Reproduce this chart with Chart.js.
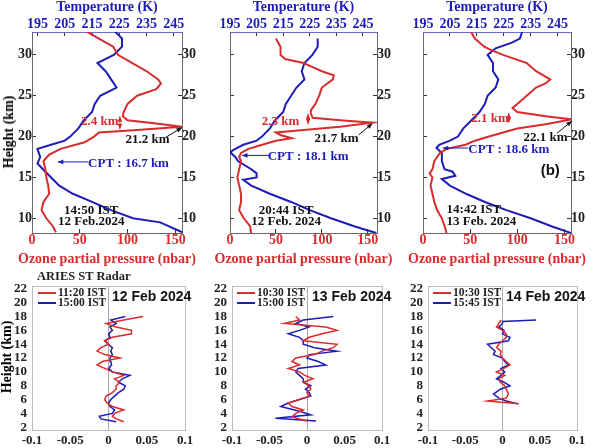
<!DOCTYPE html>
<html><head><meta charset="utf-8">
<script src="https://cdn.jsdelivr.net/npm/chart.js@4"></script>
<style>
body{margin:0;background:#fff;width:597px;height:448px;position:relative;overflow:hidden;font-family:"Liberation Serif",serif;}
.c{position:absolute;}
.t{position:absolute;font-weight:bold;white-space:nowrap;line-height:1;}
</style></head><body>
<script>
// ---------- DATA ----------
// Top panels: [height km, value]
const ozone1=[[8.3,25],[9,22],[10,15],[11,10],[12,12],[13,18],[14,17],[15,15],[16,14],[17,12],[17.8,18],[18.5,30],[19.3,55],[20,65],[20.5,70],[20.8,110],[21.2,157],[21.6,130],[22,100],[22.5,95],[23,96],[24,100],[25,110],[25.8,130],[26.5,135],[27,132],[28,120],[29,105],[30,90],[31,85],[32,70],[33,55]];
const temp1=[[8.3,248],[9.5,240],[10,230],[11,222],[12,215],[13,208],[14,203],[15,200],[16,197],[16.7,195],[17.5,196],[18.5,195],[19,200],[19.5,205],[20,207],[21,210],[22,212],[23,215],[24,216],[25,218],[26,224],[27,222],[28,220],[29,217],[30,223],[31,226],[32,226],[33,223]];
const ozone2=[[8.2,23],[9,22],[10,15],[11,10],[12,12],[13,12],[14,10],[15,8],[16,10],[17,12],[17.5,10],[18,12],[18.5,20],[19,35],[19.5,50],[19.8,67],[20.2,55],[20.5,50],[20.8,80],[21.2,120],[21.7,155],[22,120],[22.3,90],[22.8,88],[23.2,88],[24,93],[25,97],[26,100],[27,112],[27.5,113],[28,100],[28.5,90],[29,80],[29.5,60],[30,55],[31,55],[32,50]];
const temp2=[[8.2,250],[9,242],[10,233],[11,225],[12,218],[13,210],[14,203],[14.7,200],[15,205],[15.5,205],[16,203],[17,198],[17.5,197],[18.1,195],[18.5,197],[19,200],[19.5,205],[20,207],[21,210],[22,212],[23,215],[24,216],[25,218],[26,220],[27,223],[28,222],[29,223],[30,226],[31,228],[32,228]];
const ozone3=[[8.2,25],[9,23],[10,20],[11,15],[12,12],[13,10],[14,8],[15,10],[15.5,7],[16,10],[17,12],[17.5,15],[18,18],[18.5,25],[19,45],[19.5,55],[20,70],[20.5,85],[21,100],[21.5,130],[22.1,158],[22.5,130],[23,100],[23.5,95],[24,100],[25,110],[26,120],[26.5,130],[27,135],[28,120],[29,110],[30,85],[30.7,70],[31,65],[32,55],[33,50]];
const temp3=[[8.2,250],[9,243],[10,235],[11,226],[12,218],[13,211],[14,205],[14.8,202],[15.2,207],[15.7,206],[16,203],[17,202],[18,202],[18.6,200],[19,201],[19.5,205],[20,208],[21,210],[22,213],[23,216],[24,218],[25,219],[26,222],[27,223],[28,221],[29,221],[30,219],[30.8,222],[31.5,228],[32,231],[33,232]];
// Bottom panels: [height km, value]
const radarA1=[[2.8,0.02],[3.2,0.01],[3.6,0.005],[4,0.008],[4.5,0.02],[5,0.005],[5.5,-0.002],[6,-0.005],[6.5,-0.003],[7,0.005],[7.5,0.01],[8,0.01],[8.5,0.015],[9,0.008],[9.5,0.02],[10,0.005],[10.5,-0.005],[11,-0.015],[11.5,-0.008],[12,0.015],[12.5,-0.005],[13,-0.015],[13.5,-0.01],[14,0],[14.5,-0.005],[15,0.005],[15.5,0.03],[16,0.03],[16.5,0.01],[17,-0.003],[17.5,0.02],[18,0.045]];
const radarB1=[[2.8,0.01],[3.2,-0.01],[3.6,-0.012],[4,0.005],[4.5,0.008],[5,0.002],[5.5,0],[6,0.003],[6.5,0.008],[7,0.013],[7.5,0.02],[8,0.022],[8.5,0.013],[9,0.018],[9.5,0.028],[10,0.005],[10.5,0],[11,0.004],[11.5,0.003],[12,0.002],[12.5,0.005],[13,0.003],[13.5,0.005],[14,0],[14.5,-0.005],[15,0.002],[15.5,0],[16,0.005],[16.5,0.002],[17,0.01],[17.5,0.003],[18,0.022]];
const radarA2=[[2.9,0],[3.5,-0.02],[4,-0.015],[4.5,-0.005],[5,-0.02],[5.5,-0.025],[6,-0.01],[6.5,0.003],[7,0],[7.5,0.005],[8,0.003],[8.5,-0.005],[9,0.008],[9.5,-0.003],[10,-0.01],[10.5,-0.025],[11,-0.01],[11.5,-0.02],[12,-0.015],[12.5,0.01],[13,0.02],[13.5,0.035],[14,0.04],[14.5,-0.005],[15,0.003],[15.5,0.02],[16,0.04],[16.5,0.025],[17,-0.03],[17.5,-0.01],[18,-0.015]];
const radarB2=[[2.9,0.012],[3.3,-0.042],[3.8,0.005],[4.3,-0.01],[5,-0.035],[5.5,-0.025],[6,-0.01],[6.5,0.005],[7,0.003],[7.5,-0.002],[8,0.005],[8.5,-0.005],[9,-0.005],[9.5,-0.01],[10,-0.015],[10.5,-0.012],[11,0.025],[11.5,0.015],[12,0],[12.5,0.003],[13,0.04],[13.5,0.01],[14,-0.005],[14.5,-0.005],[15,-0.01],[15.5,-0.025],[16,-0.01],[16.5,0.003],[17,-0.015],[17.5,-0.005],[18,0.035]];
const radarA3=[[5.4,0.022],[5.8,-0.02],[6.2,0.005],[6.8,0.008],[7.5,0.005],[8,0.003],[8.5,-0.003],[9,-0.005],[9.5,0.003],[10,-0.008],[10.5,0.002],[11,0.01],[11.5,0.005],[12,0],[12.5,-0.003],[13,-0.002],[13.5,-0.008],[14,-0.005],[14.5,0],[15,0.005],[15.5,0.005],[16,0],[16.5,-0.008],[17,-0.005],[17.5,-0.002]];
const radarB3=[[5.4,0.02],[5.8,0.005],[6.2,-0.005],[6.8,-0.012],[7.5,-0.003],[8,0.01],[8.5,0.002],[9,-0.008],[9.5,-0.002],[10,0.003],[10.5,-0.002],[11,0.008],[11.5,0.003],[12,0],[12.5,-0.012],[13,-0.01],[13.5,-0.015],[14,-0.02],[14.5,0.008],[15,0.01],[15.5,0],[16,0.002],[16.5,-0.005],[17,0],[17.3,0],[17.5,0.045]];
const ozoneTicks=[0,50,100,150], tempTicks=[195,205,215,225,235,245], hTicks=[10,15,20,25,30];
const radarXTicks=[-0.1,-0.05,0,0.05,0.1], radarYTicks=[2,4,6,8,10,12,14,16,18,20,22];
const legend1=['11:20 IST','15:00 IST'], legend2=['10:30 IST','15:00 IST'], legend3=['10:30 IST','15:45 IST'];
const dates=['12 Feb 2024','13 Feb 2024','14 Feb 2024'];

// ---------- helpers ----------
const RED='#d92b2b', BLUE='#1c1cb8';
const F={family:'Liberation Serif',weight:'bold',size:14};
const FB={family:'Liberation Serif',weight:'bold',size:13};
const pts=(a)=>a.map(p=>({x:p[1],y:p[0]}));
function fix(ticks){return s=>{s.ticks=ticks.map(v=>({value:v}));};}
const fmt=v=>String(v);
function addText(txt,x,y,css){const d=document.createElement('div');d.className='t';d.textContent=txt;d.style.left=x+'px';d.style.top=y+'px';Object.assign(d.style,css||{});document.body.appendChild(d);return d;}

const annPlugin={id:'ann',afterDatasetsDraw(ch,a,o){
 const c=ch.ctx,xs=ch.scales.x,ys=ch.scales.y;
 (o.arrows||[]).forEach(r=>{const x1=xs.getPixelForValue(r[0]),y1=ys.getPixelForValue(r[1]),x2=xs.getPixelForValue(r[2]),y2=ys.getPixelForValue(r[3]);
  c.save();c.strokeStyle=r[4];c.fillStyle=r[4];c.lineWidth=1;c.beginPath();c.moveTo(x1,y1);c.lineTo(x2,y2);c.stroke();
  const an=Math.atan2(y2-y1,x2-x1),L=6;c.beginPath();c.moveTo(x2,y2);c.lineTo(x2-L*Math.cos(an-0.4),y2-L*Math.sin(an-0.4));c.lineTo(x2-L*Math.cos(an+0.4),y2-L*Math.sin(an+0.4));c.closePath();c.fill();
  c.restore();});
 (o.texts||[]).forEach(t=>{c.save();c.font='bold '+(t[4]||13)+'px '+(t[5]||'Liberation Serif');c.fillStyle=t[3];c.textAlign=t[6]||'center';c.textBaseline='middle';c.fillText(t[2],xs.getPixelForValue(t[0]),ys.getPixelForValue(t[1]));c.restore();});
}};
Chart.register(annPlugin);

function mk(left,top,w,h){const cv=document.createElement('canvas');cv.className='c';cv.width=w;cv.height=h;cv.style.left=left+'px';cv.style.top=top+'px';cv.style.width=w+'px';cv.style.height=h+'px';document.body.appendChild(cv);return cv;}

function topPanel(pl,pr,pt,pb,showLeft,oz,tp,ozMax,tMin,tMax,ann){
 const L=28,R=28,T=26,B=22;
 const cv=mk(pl-L,pt-T,pr-pl+L+R,pb-pt+T+B);
 const grid={drawOnChartArea:false,tickLength:-4,color:'#333'};
 new Chart(cv,{type:'line',data:{datasets:[
  {data:pts(oz),borderColor:RED,borderWidth:2,pointRadius:0,xAxisID:'x',yAxisID:'y',tension:0},
  {data:pts(tp),borderColor:BLUE,borderWidth:2,pointRadius:0,xAxisID:'x2',yAxisID:'y',tension:0}]},
 options:{responsive:false,animation:false,layout:{padding:0},plugins:{legend:{display:false},tooltip:{enabled:false},ann:ann},
  scales:{
   x:{type:'linear',position:'bottom',min:0,max:ozMax,afterBuildTicks:fix(ozoneTicks),afterFit:s=>{s.height=B;},grid:grid,border:{color:'#666'},ticks:{color:RED,font:F,padding:3,maxRotation:0,autoSkip:false}},
   x2:{type:'linear',position:'top',min:tMin,max:tMax,afterBuildTicks:fix(tempTicks),afterFit:s=>{s.height=T;},grid:grid,border:{color:'#6a6ad0'},ticks:{color:BLUE,font:F,padding:3,maxRotation:0,autoSkip:false}},
   y:{type:'linear',position:'left',min:8.2,max:32.8,afterBuildTicks:fix(hTicks),afterFit:s=>{s.width=L;},grid:grid,border:{color:'#666'},ticks:{display:showLeft,color:'#222',font:F,padding:4,autoSkip:false}},
   y2:{type:'linear',position:'right',min:8.2,max:32.8,afterBuildTicks:fix(hTicks),afterFit:s=>{s.width=R;},grid:grid,border:{color:'#666'},ticks:{color:'#222',font:F,padding:4,autoSkip:false}}
  }}});
 addText('Temperature (K)',(pl+pr)/2,0,{color:BLUE,fontSize:'14px',transform:'translateX(-50%)'});
 addText('Ozone partial pressure (nbar)',(pl+pr)/2,252,{color:RED,fontSize:'14px',transform:'translateX(-50%)'});
}

function botPanel(pl,pr,pt,pb,a,b){
 const L=28,B=17,P=16,PT=9;
 const cv=mk(pl-L,pt-PT,pr-pl+L+P,pb-pt+B+PT);
 const ng={display:false,drawTicks:false};
 new Chart(cv,{type:'line',data:{datasets:[
  {data:pts(a),borderColor:RED,borderWidth:1.5,pointRadius:0,tension:0},
  {data:pts(b),borderColor:BLUE,borderWidth:1.5,pointRadius:0,tension:0}]},
 options:{responsive:false,animation:false,layout:{padding:{top:PT,right:P}},plugins:{legend:{display:false},tooltip:{enabled:false}},
  scales:{
   x:{type:'linear',min:-0.1,max:0.1,afterBuildTicks:fix(radarXTicks),afterFit:s=>{s.height=B;},grid:{drawTicks:false,color:c=>c.tick&&c.tick.value===0?'#aaa':'rgba(0,0,0,0)'},border:{color:'#bbb'},ticks:{color:'#222',font:FB,padding:3,maxRotation:0,autoSkip:false,callback:fmt}},
   x2:{type:'linear',position:'top',min:-0.1,max:0.1,grid:ng,border:{color:'#bbb'},ticks:{display:false},afterFit:s=>{s.height=0;}},
   y:{type:'linear',min:1.6,max:22.3,afterBuildTicks:fix(radarYTicks),afterFit:s=>{s.width=L;},grid:{display:false,drawTicks:false},border:{color:'#bbb'},ticks:{color:'#222',font:FB,padding:5,autoSkip:false}},
   y2:{type:'linear',position:'right',min:1.6,max:22.3,grid:ng,border:{color:'#bbb'},ticks:{display:false},afterFit:s=>{s.width=0;}}
  }}});
}

// ---------- top panels ----------
topPanel(32,182,32,233,true,ozone1,temp1,157,193,248,{
 texts:[[71,21.8,'2.4 km',RED],[121,19.6,'21.2 km','#111'],[101,16.7,'CPT : 16.7 km',BLUE],[62,10.9,'14:50 IST','#111'],[62,9.6,'12 Feb.2024','#111']],
 arrows:[[92,21.6,92,22.5,RED],[92,21.6,92,20.9,RED],[140,19.9,157,21.1,'#111'],[59,16.9,27,16.9,BLUE]]});
topPanel(230,377,32,233,false,ozone2,temp2,160,195,250.3,{
 texts:[[55,21.8,'2.3 km',RED],[116,19.8,'21.7 km','#111'],[85,17.5,'CPT : 18.1 km',BLUE],[61,10.9,'20:44 IST','#111'],[61,9.6,'12 Feb. 2024','#111']],
 arrows:[[85,22.1,85,22.8,RED],[85,22.1,85,21.5,RED],[140,20.2,155,21.6,'#111'],[44,17.7,13,17.7,BLUE]]});
topPanel(423,571,32,233,false,ozone3,temp3,157,195,250,{
 texts:[[71,22.2,'2.1 km',RED],[130,19.9,'22.1 km','#111'],[91,18.4,'CPT : 18.6 km',BLUE],[135,15.8,'(b)','#111',15,'Liberation Sans'],[25,11,'14:42 IST','#111',13,'Liberation Serif','left'],[25,9.6,'13 Feb. 2024','#111',13,'Liberation Serif','left']],
 arrows:[[91,22.3,91,22.9,RED],[91,22.3,91,21.7,RED],[142,20.4,158,21.9,'#111'],[48,18.6,21,18.6,BLUE]]});
addText('Height (km)',9,132,{fontSize:'14px',transform:'translate(-50%,-50%) rotate(-90deg)'});

// ---------- bottom panels ----------
botPanel(32,185,283,430,radarA1,radarB1);
botPanel(232,382,283,430,radarA2,radarB2);
botPanel(428,577,283,430,radarA3,radarB3);
addText('ARIES ST Radar',37,270,{fontSize:'12.5px',color:'#222'});
addText('Height (km)',7,357,{fontSize:'14px',transform:'translate(-50%,-50%) rotate(-90deg)'});
function leg(x,y,labs,date,dx){
 [RED,BLUE].forEach((c,i)=>{const d=document.createElement('div');d.style.cssText='position:absolute;left:'+x+'px;top:'+(y+5+i*10)+'px;width:18px;height:2px;background:'+c;document.body.appendChild(d);
  addText(labs[i],x+20,y+i*10,{fontSize:'11.5px',color:'#222'});});
 addText(date,x+dx,y+2,{fontSize:'14px',fontFamily:'Liberation Sans',color:'#111'});
}
leg(38,287,legend1,dates[0],74);
leg(237,287,legend2,dates[1],75);
leg(433,287,legend3,dates[2],73);
</script>
</body></html>
